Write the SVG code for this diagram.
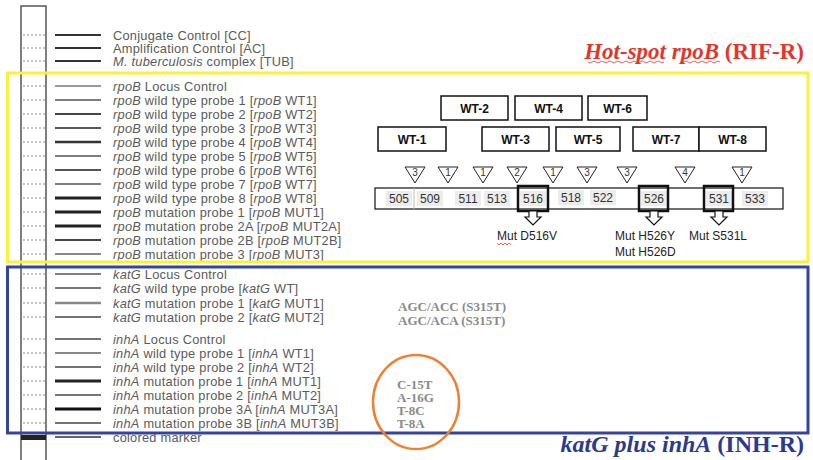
<svg xmlns="http://www.w3.org/2000/svg" width="813" height="460" viewBox="0 0 813 460">
<style>
.lbl{font-family:"Liberation Sans",Arial,sans-serif;font-size:12.8px;letter-spacing:0.25px;fill:#5a5a5a}
.i{font-style:italic}
.dot{stroke:#888;stroke-width:1.2;stroke-dasharray:2 2}
.wt rect{fill:#fff;stroke:#111;stroke-width:1.5}
.wt text{font-family:"Liberation Sans",Arial,sans-serif;font-size:12px;font-weight:bold;fill:#111;text-anchor:middle}
.tri polygon{fill:#fff;stroke:#222;stroke-width:1}
.tri text{font-family:"Liberation Sans",Arial,sans-serif;font-size:10px;fill:#333;text-anchor:middle}
.cell{fill:#ececec}
.num{font-family:"Liberation Sans",Arial,sans-serif;font-size:12px;fill:#333;text-anchor:middle}
.mut{font-family:"Liberation Sans",Arial,sans-serif;font-size:12px;fill:#222}
.ser{font-family:"Liberation Serif","Times New Roman",serif;font-size:13px;font-weight:bold;fill:#8a8a8a}
.arr{fill:#fff;stroke:#111;stroke-width:1.2}
.hb{fill:none;stroke:#111;stroke-width:2.5}
</style>

<g id="strip">
<rect x="21" y="6" width="25" height="470" fill="#fff" stroke="#555" stroke-width="1.5"/>
<rect x="21" y="435" width="25" height="5" fill="#222"/>
</g>

<g id="probes">
<line class="dot" x1="23" y1="35" x2="45" y2="35"/><line x1="55" y1="35" x2="101" y2="35" stroke="#333" stroke-width="2"/>
<text class="lbl" x="113" y="39.5">Conjugate Control [CC]</text>
<line class="dot" x1="23" y1="48" x2="45" y2="48"/><line x1="55" y1="48" x2="101" y2="48" stroke="#333" stroke-width="2"/>
<text class="lbl" x="113" y="52.5">Amplification Control [AC]</text>
<line class="dot" x1="23" y1="61" x2="45" y2="61"/><line x1="55" y1="61" x2="101" y2="61" stroke="#333" stroke-width="2"/>
<text class="lbl" x="113" y="65.5"><tspan class="i">M. tuberculosis</tspan> complex [TUB]</text>

<line class="dot" x1="23" y1="86" x2="45" y2="86"/><line x1="55" y1="86" x2="101" y2="86" stroke="#777" stroke-width="1.5"/>
<text class="lbl" x="113" y="90.5"><tspan class="i">rpoB</tspan> Locus Control</text>
<line class="dot" x1="23" y1="100" x2="45" y2="100" stroke="#444"/><line x1="55" y1="100" x2="101" y2="100" stroke="#555" stroke-width="1.5"/>
<text class="lbl" x="113" y="104.5"><tspan class="i">rpoB</tspan> wild type probe 1 [<tspan class="i">rpoB</tspan> WT1]</text>
<line class="dot" x1="23" y1="114" x2="45" y2="114"/><line x1="55" y1="114" x2="101" y2="114" stroke="#444" stroke-width="2"/>
<text class="lbl" x="113" y="118.5"><tspan class="i">rpoB</tspan> wild type probe 2 [<tspan class="i">rpoB</tspan> WT2]</text>
<line class="dot" x1="23" y1="128" x2="45" y2="128" stroke="#444"/><line x1="55" y1="128" x2="101" y2="128" stroke="#555" stroke-width="2"/>
<text class="lbl" x="113" y="132.5"><tspan class="i">rpoB</tspan> wild type probe 3 [<tspan class="i">rpoB</tspan> WT3]</text>
<line class="dot" x1="23" y1="142" x2="45" y2="142"/><line x1="55" y1="142" x2="101" y2="142" stroke="#333" stroke-width="2.5"/>
<text class="lbl" x="113" y="146.5"><tspan class="i">rpoB</tspan> wild type probe 4 [<tspan class="i">rpoB</tspan> WT4]</text>
<line class="dot" x1="23" y1="156" x2="45" y2="156" stroke="#444"/><line x1="55" y1="156" x2="101" y2="156" stroke="#555" stroke-width="1.5"/>
<text class="lbl" x="113" y="160.5"><tspan class="i">rpoB</tspan> wild type probe 5 [<tspan class="i">rpoB</tspan> WT5]</text>
<line class="dot" x1="23" y1="170" x2="45" y2="170"/><line x1="55" y1="170" x2="101" y2="170" stroke="#555" stroke-width="2"/>
<text class="lbl" x="113" y="174.5"><tspan class="i">rpoB</tspan> wild type probe 6 [<tspan class="i">rpoB</tspan> WT6]</text>
<line class="dot" x1="23" y1="184" x2="45" y2="184"/><line x1="55" y1="184" x2="101" y2="184" stroke="#555" stroke-width="1.5"/>
<text class="lbl" x="113" y="188.5"><tspan class="i">rpoB</tspan> wild type probe 7 [<tspan class="i">rpoB</tspan> WT7]</text>
<line class="dot" x1="23" y1="198" x2="45" y2="198"/><line x1="55" y1="198" x2="101" y2="198" stroke="#222" stroke-width="3"/>
<text class="lbl" x="113" y="202.5"><tspan class="i">rpoB</tspan> wild type probe 8 [<tspan class="i">rpoB</tspan> WT8]</text>
<line class="dot" x1="23" y1="212" x2="45" y2="212"/><line x1="55" y1="212" x2="101" y2="212" stroke="#222" stroke-width="3"/>
<text class="lbl" x="113" y="216.5"><tspan class="i">rpoB</tspan> mutation probe 1 [<tspan class="i">rpoB</tspan> MUT1]</text>
<line class="dot" x1="23" y1="226" x2="45" y2="226"/><line x1="55" y1="226" x2="101" y2="226" stroke="#222" stroke-width="3"/>
<text class="lbl" x="113" y="230.5"><tspan class="i">rpoB</tspan>  mutation probe 2A [<tspan class="i">rpoB</tspan> MUT2A]</text>
<line class="dot" x1="23" y1="240" x2="45" y2="240"/><line x1="55" y1="240" x2="101" y2="240" stroke="#444" stroke-width="2"/>
<text class="lbl" x="113" y="244.5"><tspan class="i">rpoB</tspan>  mutation probe 2B [<tspan class="i">rpoB</tspan> MUT2B]</text>
<line class="dot" x1="23" y1="254" x2="45" y2="254"/><line x1="55" y1="254" x2="101" y2="254" stroke="#888" stroke-width="2"/>
<text class="lbl" x="113" y="258.5"><tspan class="i">rpoB</tspan>  mutation probe 3 [<tspan class="i">rpoB</tspan> MUT3]</text>

<line class="dot" x1="23" y1="274" x2="45" y2="274"/><line x1="55" y1="274" x2="101" y2="274" stroke="#555" stroke-width="1.5"/>
<text class="lbl" x="113" y="278.5"><tspan class="i">katG</tspan> Locus Control</text>
<line class="dot" x1="23" y1="288" x2="45" y2="288" stroke="#444"/><line x1="55" y1="288" x2="101" y2="288" stroke="#777" stroke-width="2"/>
<text class="lbl" x="113" y="292.5"><tspan class="i">katG</tspan> wild type probe [<tspan class="i">katG</tspan> WT]</text>
<line class="dot" x1="23" y1="303" x2="45" y2="303"/><line x1="55" y1="303" x2="101" y2="303" stroke="#888" stroke-width="2.5"/>
<text class="lbl" x="113" y="307.5"><tspan class="i">katG</tspan> mutation probe 1 [<tspan class="i">katG</tspan> MUT1]</text>
<line class="dot" x1="23" y1="317" x2="45" y2="317"/><line x1="55" y1="317" x2="101" y2="317" stroke="#444" stroke-width="1.5"/>
<text class="lbl" x="113" y="321.5"><tspan class="i">katG</tspan> mutation probe 2 [<tspan class="i">katG</tspan> MUT2]</text>

<line class="dot" x1="23" y1="339" x2="45" y2="339" stroke="#444"/><line x1="55" y1="339" x2="101" y2="339" stroke="#444" stroke-width="1.5"/>
<text class="lbl" x="113" y="343.5"><tspan class="i">inhA</tspan> Locus Control</text>
<line class="dot" x1="23" y1="353" x2="45" y2="353"/><line x1="55" y1="353" x2="101" y2="353" stroke="#888" stroke-width="2"/>
<text class="lbl" x="113" y="357.5"><tspan class="i">inhA</tspan> wild type probe 1 [<tspan class="i">inhA</tspan> WT1]</text>
<line class="dot" x1="23" y1="367" x2="45" y2="367"/><line x1="55" y1="367" x2="101" y2="367" stroke="#444" stroke-width="1.5"/>
<text class="lbl" x="113" y="371.5"><tspan class="i">inhA</tspan> wild type probe 2 [<tspan class="i">inhA</tspan> WT2]</text>
<line class="dot" x1="23" y1="381" x2="45" y2="381"/><line x1="55" y1="381" x2="101" y2="381" stroke="#222" stroke-width="3"/>
<text class="lbl" x="113" y="385.5"><tspan class="i">inhA</tspan> mutation probe 1 [<tspan class="i">inhA</tspan> MUT1]</text>
<line class="dot" x1="23" y1="395" x2="45" y2="395" stroke="#444"/><line x1="55" y1="395" x2="101" y2="395" stroke="#777" stroke-width="2"/>
<text class="lbl" x="113" y="399.5"><tspan class="i">inhA</tspan> mutation probe 2 [<tspan class="i">inhA</tspan> MUT2]</text>
<line class="dot" x1="23" y1="409" x2="45" y2="409"/><line x1="55" y1="409" x2="101" y2="409" stroke="#111" stroke-width="3"/>
<text class="lbl" x="113" y="413.5"><tspan class="i">inhA</tspan> mutation probe 3A [<tspan class="i">inhA</tspan> MUT3A]</text>
<line class="dot" x1="23" y1="423" x2="45" y2="423" stroke="#444"/><line x1="55" y1="423" x2="101" y2="423" stroke="#444" stroke-width="1.5"/>
<text class="lbl" x="113" y="427.5"><tspan class="i">inhA</tspan> mutation probe 3B [<tspan class="i">inhA</tspan> MUT3B]</text>

<line x1="55" y1="437" x2="101" y2="437" stroke="#333" stroke-width="1.5"/>
<text class="lbl" x="113" y="441.5">colored marker</text>
</g>

<g id="rif-box">
<rect x="7.5" y="73" width="800.5" height="189" fill="none" stroke="#fbf03a" stroke-width="3"/>
<text x="804" y="59" text-anchor="end" font-family="'Liberation Serif','Times New Roman',serif" font-size="23" font-weight="bold" fill="#e5352b"><tspan font-style="italic">Hot-spot rpoB</tspan> (RIF-R)</text>
<path d="M588 62 q2 2 4 0 t4 0 t4 0 t4 0 t4 0 t4 0 t4 0 t4 0 t4 0 t4 0 t4 0 t4 0 t4 0 t4 0 t4 0 t4 0 t4 0 t4 0 t4 0 M680 62 q2 2 4 0 t4 0 t4 0 t4 0 t4 0 t4 0 t4 0 t4 0 t4 0 t4 0" fill="none" stroke="#e5352b" stroke-width="0.8"/>
</g>

<g id="inh-box">
<rect x="7.5" y="267" width="800.5" height="166" fill="none" stroke="#3444a0" stroke-width="3"/>
<text x="804" y="452" text-anchor="end" font-family="'Liberation Serif','Times New Roman',serif" font-size="24" font-weight="bold" fill="#2c3a8e"><tspan font-style="italic">katG plus inhA</tspan> (INH-R)</text>
</g>

<g id="wt-probes" class="wt">
<g id="wt2"><rect x="441" y="96" width="67" height="24"/><text x="474.5" y="112.5">WT-2</text></g>
<g id="wt4"><rect x="515" y="96" width="67" height="24"/><text x="548.5" y="112.5">WT-4</text></g>
<g id="wt6"><rect x="588" y="96" width="59" height="24"/><text x="617.5" y="112.5">WT-6</text></g>
<g id="wt1"><rect x="378" y="127" width="68" height="24"/><text x="412" y="143.5">WT-1</text></g>
<g id="wt3"><rect x="482" y="127" width="67" height="24"/><text x="515.5" y="143.5">WT-3</text></g>
<g id="wt5"><rect x="556" y="127" width="64" height="24"/><text x="588" y="143.5">WT-5</text></g>
<g id="wt7"><rect x="633" y="127" width="66" height="24"/><text x="666" y="143.5">WT-7</text></g>
<g id="wt8"><rect x="699" y="127" width="67" height="24"/><text x="732.5" y="143.5">WT-8</text></g>
</g>

<g id="triangles" class="tri">
<polygon points="405,167 425,167 415,183"/><text x="415" y="176">3</text>
<polygon points="438,167 458,167 448,183"/><text x="448" y="176">1</text>
<polygon points="473,167 493,167 483,183"/><text x="483" y="176">1</text>
<polygon points="507,167 527,167 517,183"/><text x="517" y="176">2</text>
<polygon points="543,167 563,167 553,183"/><text x="553" y="176">1</text>
<polygon points="577,167 597,167 587,183"/><text x="587" y="176">3</text>
<polygon points="617,167 637,167 627,183"/><text x="627" y="176">3</text>
<polygon points="675,167 695,167 685,183"/><text x="685" y="176">4</text>
<polygon points="732,167 752,167 742,183"/><text x="742" y="176">1</text>
</g>

<g id="codons">
<rect x="375" y="188" width="408" height="21" fill="#fff" stroke="#111" stroke-width="1.2"/>
<line x1="414" y1="188" x2="414" y2="209" stroke="#bbb"/>
<rect class="cell" x="386" y="191" width="26" height="15"/><text class="num" x="399" y="203">505</text>
<rect class="cell" x="417" y="191" width="26" height="15"/><text class="num" x="430" y="203">509</text>
<rect class="cell" x="455" y="191" width="26" height="15"/><text class="num" x="468" y="203">511</text>
<rect class="cell" x="484" y="191" width="26" height="15"/><text class="num" x="497" y="203">513</text>
<rect class="cell" x="520" y="191" width="26" height="15"/><text class="num" x="533" y="203">516</text>
<rect class="cell" x="558" y="190" width="26" height="15"/><text class="num" x="571" y="202">518</text>
<rect class="cell" x="590" y="190" width="26" height="15"/><text class="num" x="603" y="202">522</text>
<rect class="cell" x="641" y="191" width="26" height="15"/><text class="num" x="654" y="203">526</text>
<rect class="cell" x="706" y="191" width="26" height="15"/><text class="num" x="719" y="203">531</text>
<rect class="cell" x="742" y="191" width="26" height="15"/><text class="num" x="755" y="203">533</text>
<rect class="hb" x="518" y="186" width="30" height="25"/>
<rect class="hb" x="639" y="186" width="29" height="25"/>
<rect class="hb" x="704" y="186" width="29" height="25"/>
</g>

<g id="connectors">
<polygon class="arr" points="529,211 537,211 537,217 541,217 533,225 525,217 529,217"/>
<polygon class="arr" points="650,211 658,211 658,217 662,217 654,225 646,217 650,217"/>
<polygon class="arr" points="715,211 723,211 723,217 727,217 719,225 711,217 715,217"/>
</g>

<g id="mutations">
<text class="mut" x="497" y="240">Mut D516V</text>
<path d="M497 243 l2 2 l2 -2 l2 2 l2 -2 l2 2 l2 -2 l2 2" fill="none" stroke="#e33" stroke-width="0.8"/>
<text class="mut" x="615" y="240">Mut H526Y</text>
<text class="mut" x="689" y="240">Mut S531L</text>
<text class="mut" x="615" y="256">Mut H526D</text>
</g>

<g id="inh-mutations">
<text class="ser" x="398" y="311">AGC/ACC (S315T)</text>
<text class="ser" x="398" y="325">AGC/ACA (S315T)</text>
<text class="ser" x="397" y="389">C-15T</text>
<text class="ser" x="397" y="402">A-16G</text>
<text class="ser" x="397" y="415">T-8C</text>
<text class="ser" x="397" y="428">T-8A</text>
<ellipse cx="416" cy="402" rx="43" ry="47" fill="none" stroke="#f08030" stroke-width="2.5"/>
</g>
</svg>
